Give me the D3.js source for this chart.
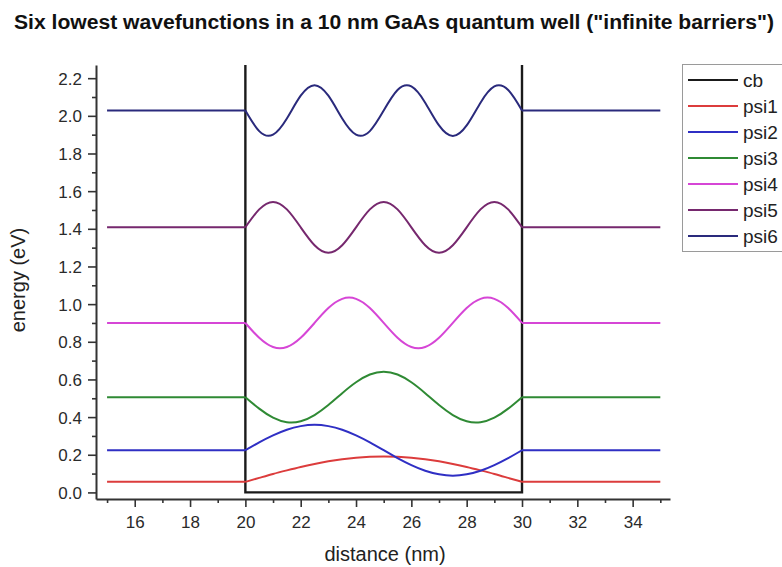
<!DOCTYPE html>
<html>
<head>
<meta charset="utf-8">
<script src="https://cdn.jsdelivr.net/npm/d3@7"></script>
<style>
  body { margin: 0; background: #fff; }
  svg { display: block; }
  text { font-family: Arial, "Liberation Sans", sans-serif; fill: #222; }
</style>
</head>
<body>
<svg id="chart" width="782" height="567"></svg>
<script>
// ---- data ----
const titleText = 'Six lowest wavefunctions in a 10 nm GaAs quantum well ("infinite barriers")';
const xLabel = "distance (nm)";
const yLabel = "energy (eV)";
const seriesNames = ["cb", "psi1", "psi2", "psi3", "psi4", "psi5", "psi6"];

// conduction band profile (well from 20 to 30 nm)
const cbDistance = [20, 20, 30, 30];
const cb = [2.27, 0, 0, 2.27];

// sample positions: left barrier, well interior every 0.5 nm, right barrier
const distance = [15, 20, 20.5, 21, 21.5, 22, 22.5, 23, 23.5, 24, 24.5, 25,
                  25.5, 26, 26.5, 27, 27.5, 28, 28.5, 29, 29.5, 30, 35];

// wavefunctions, offset by their eigen-energies (eV)
const psi1 = [0.056, 0.056, 0.077, 0.098, 0.117, 0.135, 0.151, 0.165, 0.176, 0.184, 0.189, 0.191,
              0.189, 0.184, 0.176, 0.165, 0.151, 0.135, 0.117, 0.098, 0.077, 0.056, 0.056];
const psi2 = [0.224, 0.224, 0.266, 0.303, 0.333, 0.352, 0.359, 0.352, 0.333, 0.303, 0.266, 0.224,
              0.182, 0.145, 0.115, 0.096, 0.089, 0.096, 0.115, 0.145, 0.182, 0.224, 0.224];
const psi3 = [0.506, 0.506, 0.445, 0.397, 0.373, 0.378, 0.411, 0.464, 0.527, 0.585, 0.626, 0.641,
              0.626, 0.585, 0.527, 0.464, 0.411, 0.378, 0.373, 0.397, 0.445, 0.506, 0.506];
const psi4 = [0.900, 0.900, 0.821, 0.772, 0.772, 0.821, 0.900, 0.979, 1.028, 1.028, 0.979, 0.900,
              0.821, 0.772, 0.772, 0.821, 0.900, 0.979, 1.028, 1.028, 0.979, 0.900, 0.900];
const psi5 = [1.408, 1.408, 1.503, 1.543, 1.503, 1.408, 1.313, 1.273, 1.313, 1.408, 1.503, 1.543,
              1.503, 1.408, 1.313, 1.273, 1.313, 1.408, 1.503, 1.543, 1.503, 1.408, 1.408];
const psi6 = [2.028, 2.028, 1.919, 1.900, 1.986, 2.107, 2.163, 2.107, 1.986, 1.900, 1.919, 2.028,
              2.137, 2.156, 2.070, 1.949, 1.893, 1.949, 2.070, 2.156, 2.137, 2.028, 2.028];

const xMajorTicks = [16, 18, 20, 22, 24, 26, 28, 30, 32, 34];
const xMinorTicks = [15, 17, 19, 21, 23, 25, 27, 29, 31, 33, 35];
const yMajorTicks = [0.0, 0.2, 0.4, 0.6, 0.8, 1.0, 1.2, 1.4, 1.6, 1.8, 2.0, 2.2];
const yMinorTicks = [0.1, 0.3, 0.5, 0.7, 0.9, 1.1, 1.3, 1.5, 1.7, 1.9, 2.1];

// ---- styling ----
const colors = {
  cb: "#1a1a1a", psi1: "#dc3c3c", psi2: "#2f2fc4", psi3: "#2f8a34",
  psi4: "#d646d6", psi5: "#76286e", psi6: "#2a2a7c"
};

const svg = d3.select("#chart");
const x = d3.scaleLinear().domain([14.6, 35.35]).range([96, 670]);
const y = d3.scaleLinear().domain([-0.035, 2.27]).range([499, 65]);

// title
svg.append("text")
  .attr("x", 14).attr("y", 29)
  .attr("textLength", 760).attr("lengthAdjust", "spacingAndGlyphs")
  .style("font-size", "20px").style("font-weight", "bold").style("fill", "#111")
  .text(titleText);

// clip to the axes box
svg.append("defs").append("clipPath").attr("id", "plotClip")
  .append("rect").attr("x", 96).attr("y", 65).attr("width", 574).attr("height", 434);

const plot = svg.append("g").attr("clip-path", "url(#plotClip)");

// conduction band
plot.append("path")
  .attr("d", d3.line().x((d, i) => x(cbDistance[i])).y(d => y(d))(cb))
  .attr("fill", "none").attr("stroke", colors.cb).attr("stroke-width", 2.4);

// wavefunctions: flat outside the well, smooth inside
const series = { psi1, psi2, psi3, psi4, psi5, psi6 };
const straight = d3.line().x(d => x(d[0])).y(d => y(d[1]));
const smooth = d3.line().x(d => x(d[0])).y(d => y(d[1])).curve(d3.curveNatural);
const last = distance.length - 1;

Object.entries(series).forEach(([name, vals]) => {
  const pts = distance.map((d, i) => [d, vals[i]]);
  const dStr = straight(pts.slice(0, 2)) +
               smooth(pts.slice(1, last)) +
               straight(pts.slice(last - 1));
  plot.append("path")
    .attr("d", dStr)
    .attr("fill", "none")
    .attr("stroke", colors[name])
    .attr("stroke-width", 2)
    .attr("stroke-linejoin", "round");
});

// axes
const axisColor = "#333";
function styleAxis(g) {
  g.select(".domain").attr("stroke", axisColor).attr("stroke-width", 2);
  g.selectAll(".tick line").attr("stroke", axisColor).attr("stroke-width", 1.6);
  g.selectAll(".tick text").style("font-size", "17px").style("fill", "#2a2a2a")
    .attr("font-family", null);
}

const xAxisG = svg.append("g").attr("transform", "translate(0,499)")
  .call(d3.axisBottom(x).tickValues(xMajorTicks).tickSize(8).tickSizeOuter(0)
    .tickFormat(d3.format("d")));
xAxisG.selectAll(".tick text").attr("y", 29).attr("dy", 0);
styleAxis(xAxisG);
const xMinorG = svg.append("g").attr("transform", "translate(0,499)")
  .call(d3.axisBottom(x).tickValues(xMinorTicks).tickSize(4).tickSizeOuter(0).tickFormat(""));
xMinorG.select(".domain").remove();
styleAxis(xMinorG);

const yAxisG = svg.append("g").attr("transform", "translate(96,0)")
  .call(d3.axisLeft(y).tickValues(yMajorTicks).tickSize(8).tickSizeOuter(0)
    .tickFormat(d3.format(".1f")));
yAxisG.selectAll(".tick text").attr("x", -14).attr("dy", "0.36em");
styleAxis(yAxisG);
const yMinorG = svg.append("g").attr("transform", "translate(96,0)")
  .call(d3.axisLeft(y).tickValues(yMinorTicks).tickSize(4).tickSizeOuter(0).tickFormat(""));
yMinorG.select(".domain").remove();
styleAxis(yMinorG);

// axis titles
svg.append("text")
  .attr("x", 385).attr("y", 561).attr("text-anchor", "middle")
  .style("font-size", "20px").text(xLabel);
svg.append("text")
  .attr("transform", "translate(25,280) rotate(-90)").attr("text-anchor", "middle")
  .style("font-size", "20px").text(yLabel);

// legend
const legend = svg.append("g");
legend.append("rect")
  .attr("x", 682.5).attr("y", 64.5).attr("width", 130).attr("height", 187)
  .attr("fill", "#fff").attr("stroke", "#9a9a9a").attr("stroke-width", 1);
seriesNames.forEach((name, i) => {
  const ly = 80 + i * 26;
  legend.append("line")
    .attr("x1", 688).attr("x2", 738).attr("y1", ly).attr("y2", ly)
    .attr("stroke", colors[name]).attr("stroke-width", 2);
  legend.append("text")
    .attr("x", 743).attr("y", ly).attr("dy", "0.36em")
    .style("font-size", "19px").text(name);
});
</script>
</body>
</html>
